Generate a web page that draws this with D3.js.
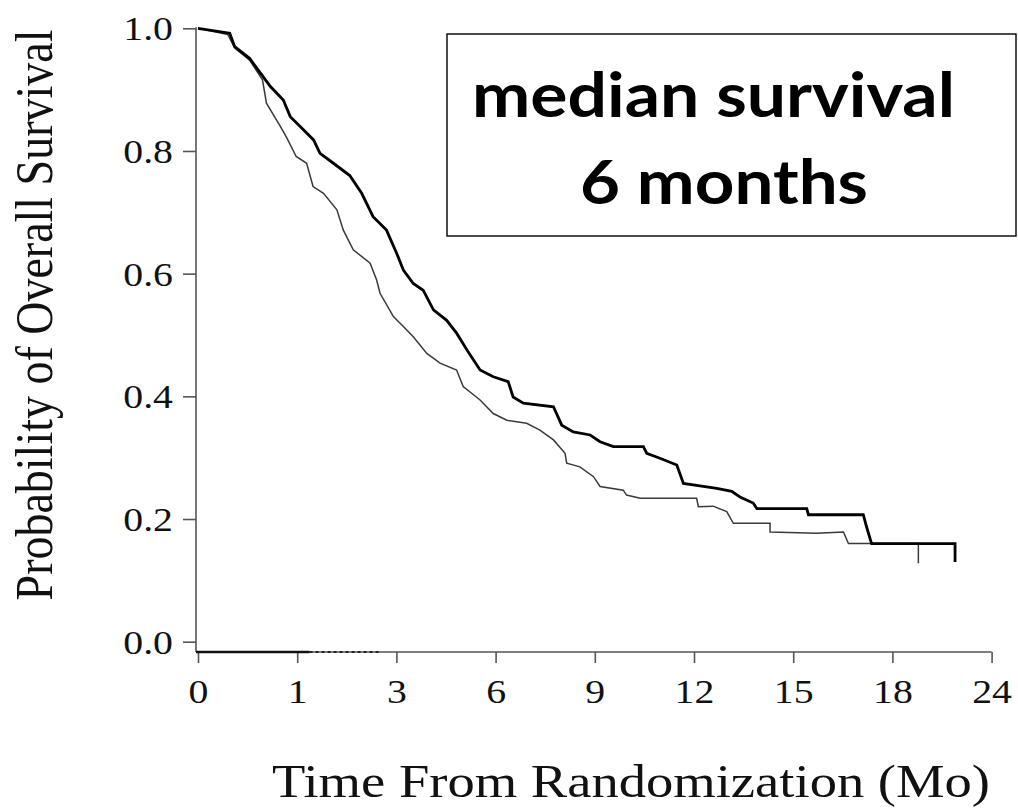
<!DOCTYPE html>
<html>
<head>
<meta charset="utf-8">
<script src="https://cdn.jsdelivr.net/npm/d3@7"></script>
<style>
  html, body { margin: 0; padding: 0; background: #fff; }
  svg { display: block; }
</style>
</head>
<body>
<svg id="chart" width="1018" height="808"></svg>
<script>
// ---- data ----
const xTickValues = [0, 1, 3, 6, 9, 12, 15, 18, 24];
const yTickValues = [0, 0.2, 0.4, 0.6, 0.8, 1.0];

const upperTime = [0, 0.32, 0.37, 0.52, 0.63, 0.73, 0.86, 0.93, 1.06, 1.33, 1.46, 1.73, 2.06, 2.30, 2.53, 2.80, 3.01, 3.21, 3.51, 3.81, 4.12, 4.52, 4.82, 5.13, 5.53, 5.93, 6.38, 6.53, 6.84, 7.75, 8.00, 8.35, 8.86, 9.16, 9.56, 10.47, 10.57, 10.97, 11.48, 11.68, 12.18, 12.69, 13.14, 13.39, 13.79, 13.90, 15.41, 15.46, 17.12, 17.22, 17.37, 21.79, 21.79];
const upperSurv = [1.0, 0.992, 0.970, 0.951, 0.927, 0.905, 0.883, 0.856, 0.840, 0.818, 0.796, 0.780, 0.760, 0.731, 0.693, 0.671, 0.633, 0.606, 0.584, 0.573, 0.541, 0.524, 0.503, 0.476, 0.443, 0.432, 0.424, 0.399, 0.389, 0.383, 0.353, 0.342, 0.337, 0.326, 0.318, 0.318, 0.307, 0.299, 0.288, 0.258, 0.254, 0.250, 0.245, 0.236, 0.226, 0.217, 0.217, 0.207, 0.207, 0.187, 0.160, 0.160, 0.130];

const lowerTime = [0, 0.30, 0.37, 0.52, 0.65, 0.69, 0.83, 0.89, 0.99, 1.19, 1.32, 1.53, 1.80, 1.93, 2.13, 2.47, 2.60, 2.67, 2.94, 3.21, 3.51, 3.92, 4.32, 4.82, 5.02, 5.53, 5.93, 6.34, 6.94, 7.34, 7.75, 8.10, 8.15, 8.55, 8.96, 9.16, 9.86, 9.96, 10.37, 12.08, 12.13, 12.58, 12.99, 13.19, 14.30, 14.30, 15.71, 16.52, 16.67, 19.57, 19.57];
const lowerSurv = [1.0, 0.990, 0.968, 0.948, 0.916, 0.878, 0.840, 0.823, 0.791, 0.780, 0.742, 0.731, 0.704, 0.671, 0.639, 0.617, 0.590, 0.568, 0.530, 0.514, 0.497, 0.470, 0.454, 0.443, 0.416, 0.394, 0.372, 0.361, 0.356, 0.345, 0.329, 0.307, 0.291, 0.285, 0.269, 0.253, 0.247, 0.239, 0.234, 0.234, 0.220, 0.221, 0.212, 0.193, 0.193, 0.179, 0.177, 0.179, 0.160, 0.160, 0.128];

const yLabel = "Probability of Overall Survival";
const xLabel = "Time From Randomization (Mo)";
const boxLines = ["median survival", "6 months"];

// ---- drawing ----
const svg = d3.select("#chart");
const serif = "'Liberation Serif', 'Times New Roman', serif";
const stretch = 1.17;

const x = d3.scaleLinear()
  .domain(xTickValues)
  .range(xTickValues.map((d, i) => 198 + i * 99.2));
const y = d3.scaleLinear().domain([0, 1]).range([641.7, 28.3]);

const axisColor = "#555";
const axisY0 = 652;

// y axis
const gy = svg.append("g").attr("transform", "translate(196,0)")
  .call(d3.axisLeft(y).tickValues(yTickValues).tickFormat(d3.format(".1f")).tickSize(13).tickSizeOuter(0));
gy.select(".domain").remove();
gy.selectAll(".tick line").attr("stroke", axisColor).attr("stroke-width", 1.6);
gy.selectAll(".tick text")
  .attr("x", -23 / stretch)
  .attr("dy", "0.34em")
  .attr("transform", `scale(${stretch},1)`)
  .attr("fill", "#111")
  .style("font-family", serif)
  .style("font-size", "34px");
svg.append("line")
  .attr("x1", 196).attr("x2", 196)
  .attr("y1", y(1) - 1).attr("y2", axisY0)
  .attr("stroke", axisColor).attr("stroke-width", 1.6);

// x axis
const gx = svg.append("g").attr("transform", `translate(0,${axisY0})`)
  .call(d3.axisBottom(x).tickValues(xTickValues).tickFormat(d3.format("d")).tickSize(11).tickSizeOuter(0));
gx.select(".domain").remove();
gx.selectAll(".tick line").attr("stroke", axisColor).attr("stroke-width", 1.6);
gx.selectAll(".tick text")
  .attr("y", 51)
  .attr("dy", 0)
  .attr("transform", `scale(${stretch},1)`)
  .attr("fill", "#111")
  .style("font-family", serif)
  .style("font-size", "34px");
svg.append("line")
  .attr("x1", 196).attr("x2", x(24))
  .attr("y1", axisY0).attr("y2", axisY0)
  .attr("stroke", axisColor).attr("stroke-width", 1.6);
svg.append("line")
  .attr("x1", 196).attr("x2", x(1.25))
  .attr("y1", axisY0).attr("y2", axisY0)
  .attr("stroke", "#111").attr("stroke-width", 2.4);
svg.append("line")
  .attr("x1", x(1.25)).attr("x2", x(2.7))
  .attr("y1", axisY0).attr("y2", axisY0)
  .attr("stroke", "#222").attr("stroke-width", 2)
  .attr("stroke-dasharray", "3,3");

// curves
const line = d3.line().x(d => x(d[0])).y(d => y(d[1])).curve(d3.curveLinear);
const lowerPts = lowerTime.map((t, i) => [t, lowerSurv[i]]);
const upperPts = upperTime.map((t, i) => [t, upperSurv[i]]);

svg.append("path")
  .attr("d", line(lowerPts))
  .attr("fill", "none")
  .attr("stroke", "#3a3a3a")
  .attr("stroke-width", 1.5)
  .attr("stroke-linejoin", "miter");

svg.append("path")
  .attr("d", line(upperPts))
  .attr("fill", "none")
  .attr("stroke", "#000")
  .attr("stroke-width", 2.8)
  .attr("stroke-linejoin", "miter");

// axis titles
svg.append("text")
  .attr("x", 272).attr("y", 797)
  .attr("textLength", 718)
  .attr("lengthAdjust", "spacingAndGlyphs")
  .style("font-family", serif)
  .style("font-size", "46px")
  .attr("fill", "#111")
  .text(xLabel);

svg.append("text")
  .attr("transform", `translate(52,315) scale(${stretch},1) rotate(-90)`)
  .attr("text-anchor", "middle")
  .style("font-family", serif)
  .style("font-size", "46px")
  .attr("fill", "#111")
  .text(yLabel);

// annotation box
svg.append("rect")
  .attr("x", 447).attr("y", 34)
  .attr("width", 569).attr("height", 202)
  .attr("fill", "#fff")
  .attr("stroke", "#000")
  .attr("stroke-width", 1.4);

const boxFont = "Lato, 'Open Sans', sans-serif";
svg.append("text")
  .attr("x", 472).attr("y", 117)
  .attr("textLength", 483)
  .attr("lengthAdjust", "spacingAndGlyphs")
  .style("font-family", boxFont)
  .style("font-weight", "bold")
  .style("font-size", "62px")
  .attr("fill", "#000")
  .text(boxLines[0]);
svg.append("text")
  .attr("x", 580).attr("y", 204)
  .attr("textLength", 288)
  .attr("lengthAdjust", "spacingAndGlyphs")
  .style("font-family", boxFont)
  .style("font-weight", "bold")
  .style("font-size", "62px")
  .attr("fill", "#000")
  .text(boxLines[1]);
</script>
</body>
</html>
